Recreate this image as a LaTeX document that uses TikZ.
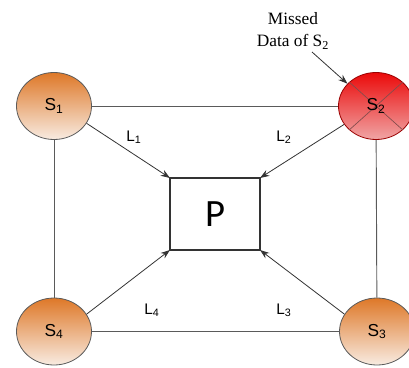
\documentclass[tikz,border=0pt]{standalone}
\usepackage{fontspec}
\setmainfont{Liberation Sans}
\newfontfamily\serifx{Liberation Serif}
\newfontfamily\calib{Carlito}
\usetikzlibrary{arrows.meta,shapes.geometric}
\definecolor{orgtop}{RGB}{222,120,40}
\definecolor{orgbot}{RGB}{248,235,225}
\definecolor{redtop}{RGB}{235,10,10}
\definecolor{redbot}{RGB}{240,165,165}
\definecolor{edge}{RGB}{90,90,90}
\tikzset{
  sensor/.style={ellipse, minimum width=56.25pt, minimum height=50.25pt, inner sep=0pt, draw=edge, line width=0.6pt, top color=orgtop, bottom color=orgbot, font=\fontsize{13}{15}\selectfont},
  redsensor/.style={sensor, draw=red!60!black, top color=redtop, bottom color=redbot},
  link/.style={draw=edge, line width=0.7pt},
  arr/.style={draw=black!80, line width=0.6pt, -{Stealth[length=7pt,width=5pt]}},
  lab/.style={font=\fontsize{11.5}{13}\selectfont},
  proc/.style={draw=black!80, line width=0.8pt, minimum width=67.5pt, minimum height=54pt, inner sep=0pt, font=\calib\fontsize{29}{30}\selectfont}
}
\begin{document}
\begin{tikzpicture}[x=0.75pt,y=-0.75pt]
\useasboundingbox (0,0) rectangle (409,367);
\node[proc] (P) at (215,214) {P};
\coordinate (Ptl) at (170,178);
\coordinate (Ptr) at (260,178);
\coordinate (Pbl) at (170,250);
\coordinate (Pbr) at (260,250);
\node[sensor] (S1) at (54,106) {S\textsubscript{1}};
\node[redsensor] (S2) at (376,106) {};
\node[sensor] (S3) at (377,331.5) {S\textsubscript{3}};
\node[sensor] (S4) at (54,331.5) {S\textsubscript{4}};
\draw[draw=red!30!black!70, line width=0.5pt] (S2.north west) -- (S2.south east) (S2.north east) -- (S2.south west);
\node[font=\fontsize{13}{15}\selectfont] at (S2) {S\textsubscript{2}};
\draw[link] (S1) -- (S2);
\draw[link] (S4) -- (S3);
\draw[link] (S1) -- (S4);
\draw[link] (S2) -- (S3);
\draw[arr] (S1.-28) -- (Ptl);
\draw[arr] (S2.-150) -- (Ptr);
\draw[arr] (S4.28) -- (Pbl);
\draw[arr] (S3.152) -- (Pbr);
\node[lab] (L1) at (134,137) {L\textsubscript{1}};
\node[lab] (L2) at (284,137) {L\textsubscript{2}};
\node[lab] (L4) at (152,310) {L\textsubscript{4}};
\node[lab] (L3) at (284,310) {L\textsubscript{3}};
\node[align=center, inner sep=0pt, font=\serifx\fontsize{13}{16.5}\selectfont] (M) at (293,31) {Missed\\Data of S\textsubscript{2}};
\coordinate (Ms) at (312,52);
\draw[arr] (Ms) -- (S2.142);
\end{tikzpicture}
\end{document}
